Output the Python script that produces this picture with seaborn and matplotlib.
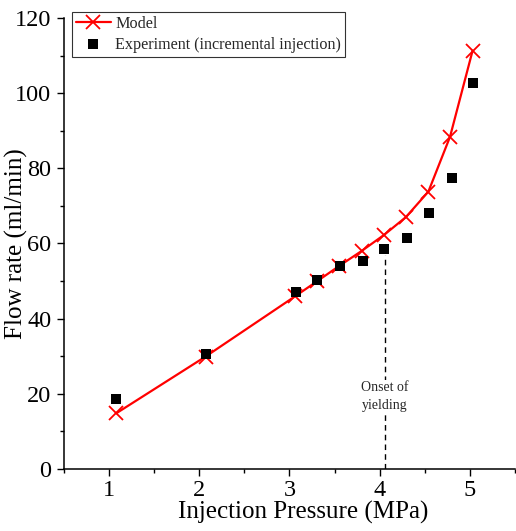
#!/usr/bin/env python3
import matplotlib
matplotlib.use("Agg")
import matplotlib.pyplot as plt
import pandas as pd
import seaborn as sns
from matplotlib.ticker import MultipleLocator

# model curve
MODEL_P = [1.08, 2.07, 3.06, 3.31, 3.55, 3.80, 4.05, 4.29, 4.54, 4.78, 5.03]
MODEL_Q = [14.8, 29.9, 45.9, 50.0, 54.0, 58.0, 62.3, 67.0, 73.8, 88.4, 111.3]

# incremental injection experiment
EXP_P = [1.08, 2.08, 3.07, 3.31, 3.56, 3.81, 4.05, 4.30, 4.55, 4.80, 5.04]
EXP_Q = [18.6, 30.7, 47.0, 50.2, 53.9, 55.4, 58.6, 61.5, 68.0, 77.4, 102.8]

YIELD_P = 4.06
YIELD_Q = 57.0


def main() -> None:
    sns.set_theme(style="ticks")
    plt.rcParams["font.family"] = ["Liberation Serif", "DejaVu Serif"]

    model = pd.DataFrame({"p": MODEL_P, "q": MODEL_Q})
    exp = pd.DataFrame({"p": EXP_P, "q": EXP_Q})

    fig = plt.figure(figsize=(5.16, 5.31), dpi=100)
    ax = fig.add_axes([0.124, 0.117, 0.874, 0.849])

    ax.plot([YIELD_P, YIELD_P], [0, YIELD_Q], color="black", linestyle=(0, (4, 3)),
            linewidth=1.0, zorder=1)
    ax.text(YIELD_P, 19.2, "Onset of\nyielding", ha="center", va="center",
            fontsize=10, linespacing=1.45, zorder=2,
            bbox=dict(facecolor="white", edgecolor="none", pad=1.0))

    sns.lineplot(data=model, x="p", y="q", color="red", linewidth=1.6, marker="x",
                 markersize=9.5, markeredgewidth=1.3, markeredgecolor="red",
                 label="Model", ax=ax, zorder=3)
    sns.scatterplot(data=exp, x="p", y="q", color="black", marker="s", s=52,
                    edgecolor="black", linewidth=0,
                    label="Experiment (incremental injection)", ax=ax, zorder=4)

    ax.set_xlim(0.5, 5.5)
    ax.set_ylim(0, 120)
    ax.xaxis.set_major_locator(MultipleLocator(1))
    ax.xaxis.set_minor_locator(MultipleLocator(0.5))
    ax.yaxis.set_major_locator(MultipleLocator(20))
    ax.yaxis.set_minor_locator(MultipleLocator(10))
    ax.tick_params(which="major", direction="out", length=5, width=1.0,
                   labelsize=17.5, color="black", labelcolor="black")
    ax.tick_params(axis="y", which="major", pad=4)
    ax.tick_params(axis="x", which="major", pad=3)
    ax.tick_params(which="minor", direction="out", length=3, width=1.0, color="black")
    sns.despine(ax=ax)
    for side in ("left", "bottom"):
        ax.spines[side].set_color("black")
        ax.spines[side].set_linewidth(1.1)

    ax.set_xlabel("Injection Pressure (MPa)", fontsize=18, color="black")
    ax.set_ylabel("Flow rate (ml/min)", fontsize=18, color="black")
    ax.xaxis.set_label_coords(0.531, -0.071)
    ax.yaxis.set_label_coords(-0.08, 0.5)

    leg = ax.legend(loc="upper left", bbox_to_anchor=(0.139, 0.978),
                    bbox_transform=fig.transFigure, fontsize=11.6, frameon=True,
                    fancybox=False, borderpad=0.25, handlelength=2.2,
                    handletextpad=0.25, labelspacing=0.3, borderaxespad=0)
    leg.get_frame().set_edgecolor("black")
    leg.get_frame().set_linewidth(0.8)

    fig.savefig("out.png", dpi=100)
    plt.close(fig)


if __name__ == "__main__":
    main()
